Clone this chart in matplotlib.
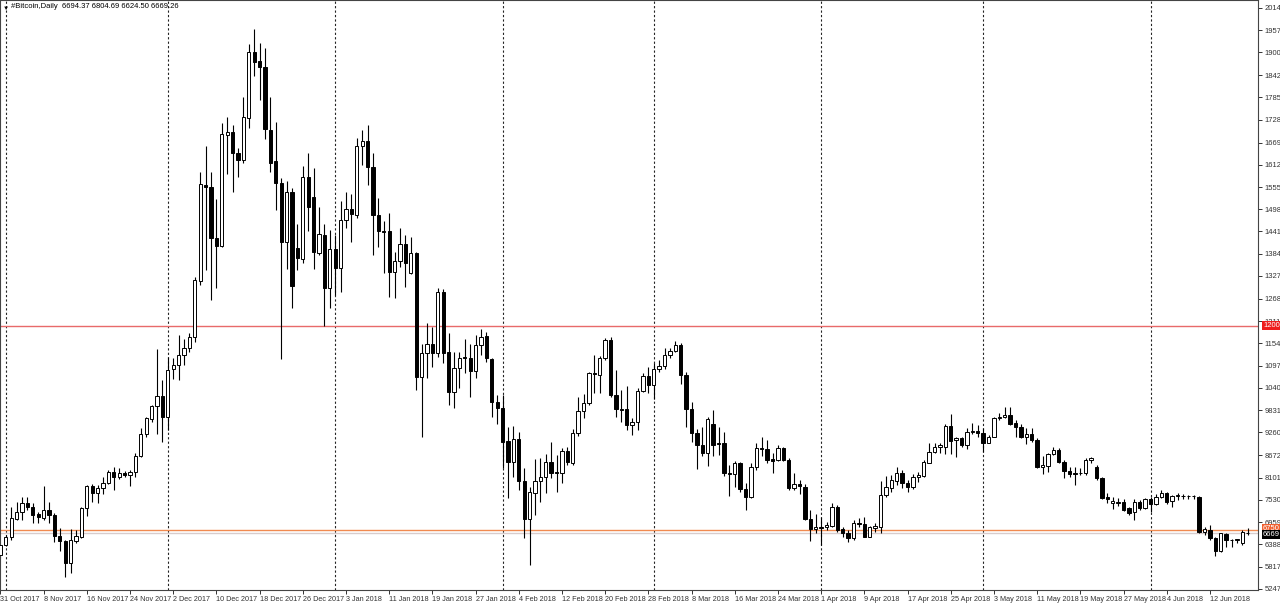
import numpy as np
import pandas as pd
import matplotlib
matplotlib.use('Agg')
from matplotlib import pyplot as plt

plt.rcParams['font.family'] = ['Liberation Sans', 'DejaVu Sans']

# daily OHLC, #Bitcoin, 31 Oct 2017 .. 19 Jun 2018
opens = [6118, 6375, 6572, 7041, 7229, 7460, 7357, 7161, 7058, 7272,
         7144, 6606, 6486, 5922, 6486, 6589, 7315, 7896, 7716, 7845,
         7973, 8255, 8126, 8220, 8169, 8237, 8656, 9220, 9605, 9938,
         10194, 9664, 10877, 10990, 11250, 11415, 11714, 13150, 15601, 15558,
         14234, 14046, 16883, 16951, 16430, 16242, 17310, 19018, 18779, 18617,
         17011, 16216, 15661, 14132, 15413, 13978, 13696, 15815, 15302, 13867,
         14320, 12953, 13952, 13466, 14705, 14978, 14833, 16610, 16738, 16072,
         14833, 14423, 14423, 13381, 13663, 14081, 13338, 13868, 10690, 11288,
         11518, 11288, 12868, 11314, 10288, 10903, 11202, 11177, 10835, 11502,
         11732, 11134, 10032, 9895, 9040, 8511, 9083, 8024, 7033, 7716,
         8024, 8126, 8494, 8246, 8229, 8784, 8468, 9237, 9809, 10023,
         10791, 10732, 11159, 11629, 10219, 9869, 9852, 9450, 9536, 10322,
         10706, 10475, 10877, 10963, 11244, 11356, 11501, 10732, 9860, 9254,
         8938, 8724, 9476, 8998, 8981, 8229, 8195, 8468, 7802, 7614,
         8366, 8869, 8827, 8570, 8553, 8852, 8553, 7827, 7938, 7853,
         7033, 6776, 6845, 6828, 6862, 7340, 6777, 6691, 6546, 6947,
         6913, 6588, 6802, 6845, 7656, 7827, 8024, 8229, 7955, 7853,
         8109, 8143, 8485, 8767, 8895, 8895, 9425, 9066, 9109, 8938,
         9262, 9288, 9254, 8998, 9151, 9621, 9664, 9707, 9493, 9408,
         9134, 9220, 9066, 8382, 8408, 8707, 8810, 8511, 8280, 8229,
         8212, 8229, 8553, 8383, 8084, 7597, 7443, 7443, 7485, 7315,
         7229, 7485, 7315, 7545, 7426, 7614, 7699, 7511, 7631, 7631,
         7640, 7631, 7597, 6717, 6759, 6546, 6229, 6657, 6503, 6512,
         6418, 6694.37]
highs = [6400, 6631, 7358, 7486, 7597, 7614, 7443, 7229, 7896, 7486,
         7187, 6819, 6503, 6777, 6760, 7358, 7913, 7938, 7904, 8109,
         8297, 8366, 8340, 8280, 8297, 8725, 9365, 9664, 9963, 11390,
         10604, 11202, 11159, 11760, 11646, 11800, 13252, 15943, 16601, 15943,
         15242, 17199, 17352, 17139, 16541, 17865, 19215, 19591, 19232, 19104,
         17865, 17224, 15772, 15704, 15516, 14602, 16097, 16430, 16029, 15046,
         14602, 14448, 14320, 15192, 15431, 15363, 16798, 17012, 17140, 16414,
         15277, 14679, 14876, 13893, 14508, 14321, 14278, 13893, 11518, 12057,
         11971, 12971, 12937, 11800, 11314, 11331, 11655, 11518, 11758, 11912,
         11843, 11160, 10220, 10220, 9408, 9425, 9279, 8340, 7870, 8570,
         8596, 8707, 9023, 8682, 8852, 8895, 9339, 10177, 10245, 10817,
         11244, 11219, 11671, 11697, 10860, 10347, 10450, 9621, 10390, 10791,
         10945, 11031, 11116, 11415, 11415, 11612, 11560, 10817, 10048, 9339,
         9408, 9647, 9835, 9408, 9279, 8425, 8536, 8511, 7955, 8468,
         8980, 9134, 9066, 8724, 8938, 8895, 8596, 8212, 8041, 7938,
         7272, 7170, 7101, 6973, 7443, 7400, 6845, 6759, 7015, 7058,
         7101, 6862, 6930, 8024, 8143, 8169, 8383, 8297, 8041, 8195,
         8255, 8553, 8980, 8998, 8998, 9476, 9732, 9151, 9134, 9365,
         9493, 9450, 9365, 9194, 9664, 9750, 9920, 9903, 9579, 9476,
         9365, 9365, 9109, 8656, 8741, 8878, 8852, 8553, 8383, 8383,
         8340, 8596, 8630, 8425, 8109, 7699, 7614, 7571, 7545, 7357,
         7545, 7528, 7571, 7614, 7674, 7784, 7742, 7665, 7716, 7682,
         7657, 7657, 7631, 6845, 6887, 6588, 6691, 6691, 6520, 6530,
         6759, 6804.69]
lows = [6050, 6350, 6503, 7016, 7016, 7272, 6947, 6947, 7016, 6947,
        6460, 6230, 5563, 5666, 6418, 6546, 7127, 7486, 7443, 7682,
        7938, 7785, 8058, 8109, 7887, 8109, 8639, 9152, 9536, 9220,
        9023, 9322, 10621, 10600, 11000, 11330, 11586, 13039, 13423, 12654,
        12953, 14021, 15883, 15430, 15798, 16157, 17053, 18395, 17780, 16772,
        15943, 14960, 11150, 13440, 12440, 13423, 13594, 14431, 13440, 13807,
        11987, 12440, 12782, 12868, 14491, 14133, 14748, 16115, 15602, 13808,
        14021, 13338, 12740, 12714, 13509, 12996, 13312, 10348, 9152, 10647,
        10946, 11202, 11031, 9964, 9878, 10391, 10775, 10177, 10647, 11245,
        11074, 9665, 9468, 8340, 7571, 8126, 7784, 6546, 5862, 7144,
        7485, 7699, 8084, 7742, 7955, 8426, 8426, 9168, 9621, 9963,
        10262, 10262, 11116, 10177, 9647, 9536, 9322, 9194, 9322, 10305,
        10279, 10108, 10817, 10877, 11159, 11330, 10501, 9408, 9023, 8314,
        8656, 8400, 8656, 8682, 8143, 7631, 7870, 7742, 7272, 7571,
        8297, 8656, 8468, 8212, 8536, 8536, 7784, 7784, 7682, 7016,
        6486, 6674, 6375, 6759, 6845, 6717, 6588, 6460, 6503, 6845,
        6571, 6571, 6717, 6691, 7614, 7742, 7913, 7827, 7742, 7801,
        7998, 8126, 8468, 8724, 8741, 8707, 8707, 8621, 8895, 8827,
        9220, 9151, 8767, 8980, 9134, 9579, 9640, 9450, 9151, 9109,
        8963, 9023, 8340, 8195, 8255, 8682, 8468, 8084, 8126, 7913,
        8169, 8169, 8468, 8041, 7545, 7443, 7289, 7374, 7255, 7144,
        7016, 7272, 7289, 7229, 7400, 7571, 7426, 7340, 7528, 7545,
        7545, 7545, 6674, 6631, 6503, 6093, 6204, 6332, 6332, 6418,
        6375, 6624.50]
closes = [6375, 6589, 7058, 7229, 7460, 7357, 7144, 7084, 7272, 7144,
          6606, 6486, 5922, 6503, 6606, 7315, 7896, 7716, 7845, 7973,
          8255, 8126, 8229, 8170, 8237, 8665, 9220, 9622, 9938, 10194,
          9664, 10860, 10988, 11250, 11415, 11714, 13166, 15618, 15558, 14234,
          14046, 16900, 16968, 16430, 16242, 17335, 19018, 18762, 18617, 17028,
          16174, 15644, 14132, 15413, 13021, 13722, 15815, 15046, 13875, 14337,
          12953, 13952, 13466, 14705, 14978, 14850, 16610, 16738, 16072, 14833,
          14423, 14389, 13381, 13663, 14081, 13594, 13868, 10690, 11288, 11518,
          11305, 12868, 11288, 10288, 10903, 11160, 11160, 10835, 11502, 11715,
          11160, 10032, 9895, 9024, 8511, 9083, 8024, 7033, 7742, 8024,
          8126, 8494, 8212, 8212, 8784, 8494, 9237, 9809, 10023, 10791,
          10749, 11159, 11629, 10219, 9852, 9835, 9450, 9536, 10322, 10706,
          10475, 10877, 10963, 11244, 11356, 11501, 10732, 9860, 9254, 8938,
          8724, 9596, 8938, 8964, 8212, 8195, 8468, 7802, 7614, 8366,
          8852, 8827, 8553, 8536, 8852, 8553, 7827, 7938, 7887, 7033,
          6776, 6845, 6820, 6887, 7340, 6759, 6691, 6546, 6930, 6913,
          6588, 6828, 6862, 7656, 7853, 8041, 8229, 7955, 7853, 8126,
          8169, 8511, 8767, 8895, 8938, 9425, 9049, 9109, 8938, 9280,
          9297, 9254, 8998, 9151, 9621, 9664, 9707, 9476, 9408, 9134,
          9220, 9066, 8382, 8425, 8707, 8810, 8511, 8280, 8195, 8195,
          8229, 8553, 8596, 8084, 7571, 7545, 7511, 7485, 7272, 7187,
          7485, 7315, 7545, 7426, 7614, 7699, 7485, 7631, 7665, 7640,
          7631, 7640, 6717, 6777, 6546, 6229, 6674, 6503, 6512, 6520,
          6717, 6669.26]

dates = pd.date_range('2017-10-31', periods=len(closes), freq='D')

ytick_vals = [20140, 19570, 19000, 18420, 17850, 17280, 16690, 16120, 15550,
              14980, 14410, 13840, 13270, 12680, 12110, 11540, 10970, 10400,
              9831, 9260, 8672, 8101, 7530, 6959, 6388, 5817, 5247]
ytick_text = ['2014', '1957', '1900', '1842', '1785', '1728', '1669', '1612',
              '1555', '1498', '1441', '1384', '1327', '1268', '1211', '1154',
              '1097', '1040', '9831', '9260', '8672', '8101', '7530', '6959',
              '6388', '5817', '5247']

level_red = 12000
level_orange = 6750
bid = 6669.26

o = np.array(opens, dtype=float)
h = np.array(highs, dtype=float)
l = np.array(lows, dtype=float)
c = np.array(closes, dtype=float)
x = np.arange(len(c))

fig = plt.figure(figsize=(12.8, 6.04), dpi=100)
ax = fig.add_axes([0, 14 / 604, 1258 / 1280, 590 / 604])

# month separators
for i, d in enumerate(dates):
    if d.day == 1:
        ax.axvline(i, color='#222222', lw=0.8, ls=(0, (2, 2)), zorder=1)

ax.axhline(level_red, color='#e86a6a', lw=1.0, zorder=1)
ax.axhline(level_orange, color='#f08a50', lw=1.0, zorder=1)
ax.axhline(bid, color='#d8cccc', lw=1.0, zorder=1)

# candles
up = c >= o
ax.vlines(x, l, h, color='black', lw=0.8, zorder=2)
body_lo = np.minimum(o, c)
body_h = np.maximum(np.abs(c - o), 8)
ax.bar(x, body_h, bottom=body_lo, width=0.62,
       color=np.where(up, 'white', 'black'), edgecolor='black', lw=0.7, zorder=3)

ax.set_xlim(-0.074, 232.9)
ax.set_ylim(5221, 20343)

ax.yaxis.tick_right()
ax.set_yticks(ytick_vals)
ax.set_yticklabels(ytick_text, fontsize=5.5)
ax.tick_params(axis='y', length=3, pad=2, width=0.7, colors='#333333')

xt = x[::8]
ax.set_xticks(xt)
ax.set_xticklabels([f"{dates[i].day} {dates[i].strftime('%b %Y')}" for i in xt],
                   fontsize=5.2, ha='left')
ax.tick_params(axis='x', length=3, pad=1.5, width=0.7, colors='#333333')

for s in ax.spines.values():
    s.set_color('#444444')
    s.set_linewidth(0.8)

# price labels on the right scale
tr = ax.get_yaxis_transform()
ax.text(1.004, level_orange + 40, '6750', transform=tr, fontsize=5.5, color='white',
        va='center', ha='left', zorder=5,
        bbox=dict(boxstyle='square,pad=0.15', fc='#f06030', ec='none'))
ax.text(1.004, bid - 20, '6669', transform=tr, fontsize=5.5, color='white',
        va='center', ha='left', zorder=6,
        bbox=dict(boxstyle='square,pad=0.15', fc='black', ec='none'))
ax.text(1.004, level_red, '1200', transform=tr, fontsize=5.5, color='white',
        va='center', ha='left', zorder=6,
        bbox=dict(boxstyle='square,pad=0.15', fc='#ee1c1c', ec='none'))

fig.text(3 / 1280, 1 - 8 / 604, '\u25bc', fontsize=4.5, va='center', ha='left')
fig.text(11 / 1280, 1 - 7 / 604,
         '#Bitcoin,Daily  6694.37 6804.69 6624.50 6669.26',
         fontsize=5.5, va='center', ha='left')

fig.savefig('out.png', dpi=100)
